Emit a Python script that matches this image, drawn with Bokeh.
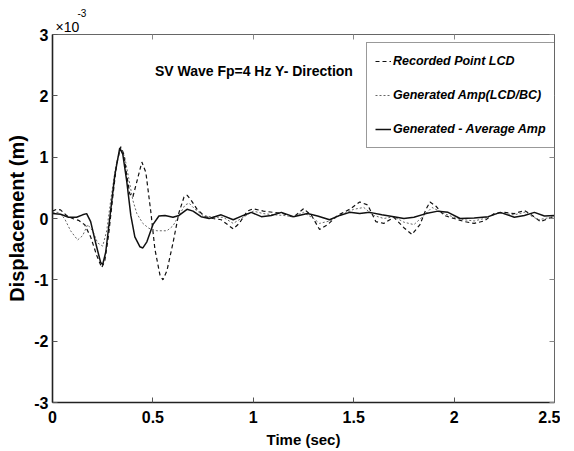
from bokeh.plotting import figure
from bokeh.models import (LinearAxis, FixedTicker, Label, Legend, LegendItem,
                          Range1d, CustomJSTickFormatter, Title)
from bokeh.embed import file_html
from bokeh.resources import INLINE

# ---- data (displacement in units of 1e-3 m) ----
t_rec = [0.00, 0.02, 0.04, 0.07, 0.10, 0.13, 0.16, 0.19, 0.22, 0.245, 0.26, 0.28, 0.30, 0.32,
         0.34, 0.355, 0.37, 0.385, 0.40, 0.42, 0.445, 0.465, 0.49, 0.51, 0.535, 0.55, 0.57,
         0.60, 0.63, 0.655, 0.67, 0.69, 0.72, 0.76, 0.80, 0.84, 0.88, 0.90, 0.93,
         0.97, 1.00, 1.05, 1.10, 1.15, 1.20, 1.25, 1.29, 1.33, 1.37, 1.42, 1.48, 1.53, 1.57,
         1.61, 1.65, 1.70, 1.75, 1.79, 1.83, 1.86, 1.88, 1.91, 1.95, 2.00, 2.05, 2.10, 2.15,
         2.20, 2.25, 2.30, 2.35, 2.39, 2.43, 2.47, 2.50]
d_rec = [0.12, 0.15, 0.14, 0.05, 0.00, -0.03, -0.10, -0.30, -0.60, -0.80, -0.70, -0.25, 0.35, 0.90,
         1.17, 1.05, 0.70, 0.40, 0.35, 0.60, 0.92, 0.75, 0.10, -0.50, -0.92, -1.00, -0.85,
         -0.40, 0.10, 0.35, 0.38, 0.30, 0.15, 0.03, 0.00, -0.02, -0.12, -0.17, -0.08,
         0.12, 0.16, 0.12, 0.10, 0.08, 0.02, 0.16, 0.05, -0.18, -0.10, 0.05, 0.15, 0.27, 0.22,
         -0.05, -0.08, 0.02, -0.15, -0.26, -0.10, 0.15, 0.27, 0.20, 0.05, 0.00, -0.05, -0.08, -0.04,
         0.08, 0.10, 0.08, 0.13, 0.05, -0.05, 0.00, 0.04]

t_gen = [0.00, 0.03, 0.06, 0.09, 0.125, 0.15, 0.175, 0.20, 0.225, 0.25, 0.27, 0.29, 0.315, 0.34,
         0.36, 0.38, 0.40, 0.42, 0.45, 0.48, 0.52, 0.57, 0.60, 0.63, 0.66, 0.68, 0.71, 0.75,
         0.80, 0.85, 0.90, 0.95, 1.00,
         1.05, 1.10, 1.15, 1.20, 1.25, 1.30, 1.33, 1.38, 1.43, 1.50, 1.55, 1.60, 1.65, 1.70,
         1.75, 1.80, 1.85, 1.89, 1.95, 2.00, 2.05, 2.10, 2.15, 2.22, 2.30, 2.35, 2.42, 2.50]
d_gen = [0.10, 0.10, 0.00, -0.20, -0.35, -0.28, -0.10, -0.20, -0.40, -0.45, -0.20, 0.30, 0.85, 1.15,
         1.00, 0.65, 0.30, 0.08, -0.08, -0.16, -0.20, -0.20, -0.12, 0.05, 0.22, 0.25, 0.15, 0.05,
         0.02, 0.02, -0.08, 0.02, 0.12,
         0.08, 0.06, 0.05, 0.03, 0.10, 0.00, -0.08, -0.04, 0.05, 0.15, 0.18, 0.05, 0.00, 0.03,
         -0.06, -0.10, 0.05, 0.18, 0.08, 0.02, -0.02, -0.04, 0.00, 0.09, 0.06, 0.10, -0.02, 0.03]

t_avg = [0.00, 0.04, 0.08, 0.12, 0.15, 0.17, 0.19, 0.215, 0.24, 0.25, 0.265, 0.285, 0.31, 0.335,
         0.35, 0.37, 0.39, 0.41, 0.435, 0.45, 0.47, 0.50, 0.53, 0.56, 0.60, 0.63, 0.67, 0.70,
         0.74, 0.78, 0.84, 0.90, 0.95,
         0.99, 1.04, 1.09, 1.14, 1.20, 1.27, 1.32, 1.38, 1.43, 1.48, 1.53, 1.58, 1.64, 1.70,
         1.75, 1.80, 1.86, 1.92, 1.97, 2.03, 2.10, 2.17, 2.23, 2.30, 2.35, 2.40, 2.45, 2.50]
d_avg = [0.08, 0.07, 0.02, 0.02, 0.06, 0.08, -0.05, -0.40, -0.72, -0.75, -0.55, 0.00, 0.70, 1.15,
         1.05, 0.60, 0.05, -0.30, -0.46, -0.48, -0.38, -0.10, 0.04, 0.05, 0.02, 0.05, 0.15, 0.12,
         0.03, 0.00, 0.06, -0.02, 0.05,
         0.10, 0.03, 0.05, 0.10, 0.03, 0.08, 0.04, -0.02, 0.05, 0.10, 0.08, 0.10, 0.06, 0.03,
         0.00, 0.02, 0.08, 0.12, 0.10, 0.00, 0.01, 0.03, 0.10, 0.02, 0.05, 0.10, 0.04, 0.05]

x_ticks = [0, 0.5, 1, 1.5, 2, 2.5]
y_ticks = [-3, -2, -1, 0, 1, 2, 3]
legend_labels = ["Recorded Point LCD", "Generated Amp(LCD/BC)", "Generated - Average Amp"]
title_text = "SV Wave Fp=4 Hz  Y- Direction"

FONT = "Liberation Sans"

p = figure(output_backend="svg", toolbar_location=None,
           frame_width=502, frame_height=368,
           min_border_left=52, min_border_right=6, min_border_top=34, min_border_bottom=46,
           x_range=Range1d(0, 2.5), y_range=Range1d(-3, 3),
           background_fill_color="white", border_fill_color="white")
p.grid.visible = False
p.outline_line_color = "#666666"
p.outline_line_width = 1

r1 = p.line(t_rec, d_rec, line_color="#111111", line_width=1.2, line_dash="4 3")
r2 = p.line(t_gen, d_gen, line_color="#666666", line_width=1.0, line_dash="2 2")
r3 = p.line(t_avg, d_avg, line_color="#111111", line_width=1.5)

fmt = CustomJSTickFormatter(code="return tick.toString();")
for ax in (p.xaxis[0], p.yaxis[0]):
    ax.major_tick_in = 5
    ax.major_tick_out = 0
    ax.minor_tick_in = 0
    ax.minor_tick_out = 0
    ax.axis_line_color = "#222222"
    ax.axis_line_width = 1.6
    ax.major_tick_line_color = "#555555"
    ax.major_label_text_font = FONT
    ax.major_label_text_font_style = "bold"
    ax.major_label_text_font_size = "16px"
    ax.major_label_text_color = "black"
    ax.axis_label_text_color = "black"
    ax.axis_label_text_font_style = "bold"
    ax.axis_label_text_font = FONT
    ax.formatter = fmt

p.xaxis.ticker = FixedTicker(ticks=x_ticks)
p.yaxis.ticker = FixedTicker(ticks=y_ticks)
p.xaxis.axis_label = "Time (sec)"
p.xaxis.axis_label_text_font_size = "15px"
p.xaxis.major_label_standoff = 8
p.xaxis.axis_label_standoff = 5
p.yaxis.axis_label = "Displacement (m)"
p.yaxis.axis_label_text_font_size = "20px"
p.yaxis.major_label_standoff = 4
p.yaxis.axis_label_standoff = 3

blank = CustomJSTickFormatter(code="return '';")
top = LinearAxis(ticker=FixedTicker(ticks=x_ticks), formatter=blank,
                 major_tick_in=5, major_tick_out=0, minor_tick_in=0, minor_tick_out=0,
                 axis_line_color="#666666", major_tick_line_color="#888888",
                 major_label_standoff=0)
right = LinearAxis(ticker=FixedTicker(ticks=y_ticks), formatter=blank,
                   major_tick_in=5, major_tick_out=0, minor_tick_in=0, minor_tick_out=0,
                   axis_line_color="#666666", major_tick_line_color="#888888",
                   major_label_standoff=0)
p.add_layout(top, "above")
p.add_layout(right, "right")

# exponent marker "x10^-3" above the y axis
p.add_layout(Title(text="\u00d710", align="left", offset=3, standoff=0,
                   text_font=FONT, text_font_size="14px", text_font_style="normal",
                   text_color="black"), "above")
p.add_layout(Title(text="-3", align="left", offset=25, standoff=0,
                   text_font=FONT, text_font_size="10px", text_font_style="normal",
                   text_color="black"), "above")

p.add_layout(Label(x=0.51, y=2.4, text=title_text, text_font=FONT, text_font_style="bold",
                   text_font_size="14px", text_color="black", text_baseline="middle"))

legend = Legend(items=[LegendItem(label=legend_labels[0], renderers=[r1]),
                       LegendItem(label=legend_labels[1], renderers=[r2]),
                       LegendItem(label=legend_labels[2], renderers=[r3])],
                location=(314, 254), orientation="vertical",
                label_text_font=FONT, label_text_font_style="bold italic",
                label_text_font_size="12.5px", label_text_color="black",
                glyph_width=16, glyph_height=20, label_height=20, label_standoff=2,
                spacing=14, padding=8, margin=0,
                border_line_color="#333333", border_line_width=1.5,
                background_fill_color="white", background_fill_alpha=1.0)
p.add_layout(legend, "center")

open("out.html", "w").write(file_html(p, INLINE))
